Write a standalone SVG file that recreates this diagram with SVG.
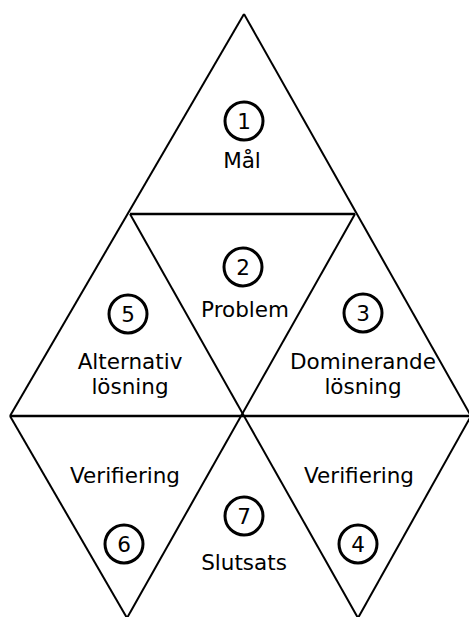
<svg xmlns="http://www.w3.org/2000/svg" width="469" height="617" viewBox="0 0 469 617">
  <style>
    .edge { fill: none; stroke: #000; stroke-width: 2; stroke-linecap: butt; }
    .badge { fill: #fff; stroke: #000; stroke-width: 3; }
    text { font-family: "DejaVu Sans", Verdana, sans-serif; font-size: 21.5px; fill: #000; text-anchor: middle; }
  </style>
  <rect width="469" height="617" fill="#fff"/>

  <!-- triangle edges -->
  <g id="connectors">
    <line class="edge" x1="244" y1="14" x2="10" y2="416"/>
    <line class="edge" x1="244" y1="14" x2="471" y2="416"/>
    <line class="edge" x1="130" y1="214" x2="355" y2="214" style="stroke-width:2.5"/>
    <line class="edge" x1="130" y1="214" x2="358" y2="618"/>
    <line class="edge" x1="355" y1="214" x2="127" y2="618"/>
    <line class="edge" x1="10" y1="416" x2="471" y2="416" style="stroke-width:2.5"/>
    <line class="edge" x1="10" y1="416" x2="127" y2="618"/>
    <line class="edge" x1="471" y1="416" x2="358" y2="618"/>
  </g>

  <g id="node1">
    <circle class="badge" cx="244" cy="121" r="19"/>
    <text x="244" y="129">1</text>
    <text x="242" y="168">Mål</text>
  </g>

  <g id="node2">
    <circle class="badge" cx="243" cy="267" r="19"/>
    <text x="243" y="275">2</text>
    <text x="245" y="317">Problem</text>
  </g>

  <g id="node3">
    <circle class="badge" cx="363" cy="313" r="19"/>
    <text x="363" y="321">3</text>
    <text x="363" y="369">Dominerande</text>
    <text x="363" y="394">lösning</text>
  </g>

  <g id="node5">
    <circle class="badge" cx="128" cy="314" r="19"/>
    <text x="128" y="322">5</text>
    <text x="130" y="369">Alternativ</text>
    <text x="130" y="394">lösning</text>
  </g>

  <g id="node6">
    <circle class="badge" cx="124" cy="544" r="19"/>
    <text x="124" y="552">6</text>
    <text x="125" y="483">Verifiering</text>
  </g>

  <g id="node7">
    <circle class="badge" cx="244" cy="516" r="19"/>
    <text x="244" y="524">7</text>
    <text x="244" y="570">Slutsats</text>
  </g>

  <g id="node4">
    <circle class="badge" cx="358" cy="544" r="19"/>
    <text x="358" y="552">4</text>
    <text x="359" y="483">Verifiering</text>
  </g>
</svg>
